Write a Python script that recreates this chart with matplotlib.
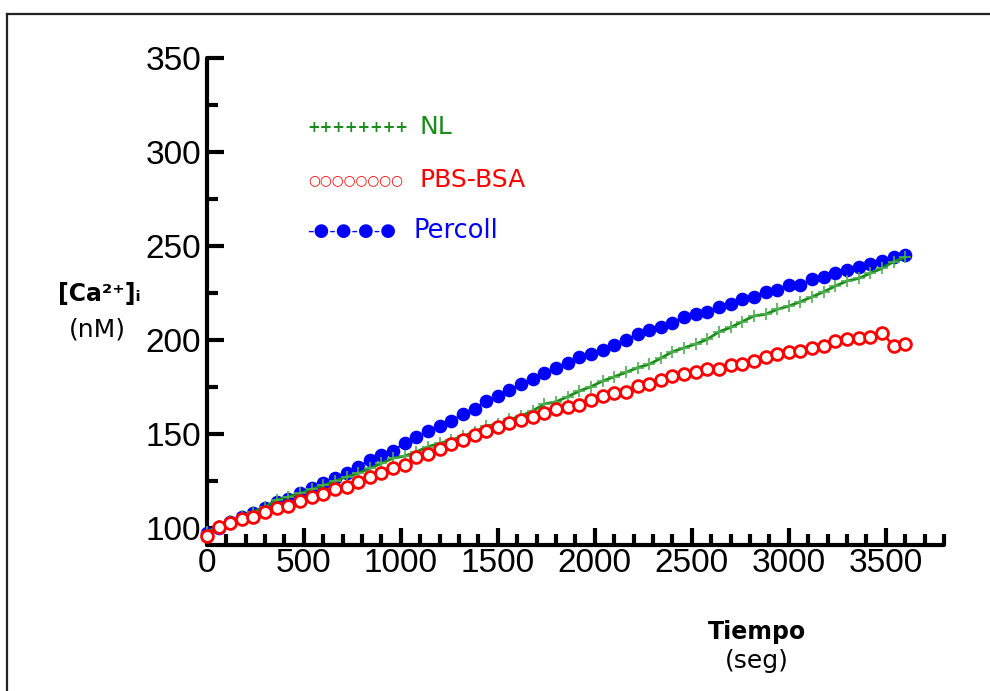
import matplotlib
matplotlib.use("Agg")
import matplotlib.pyplot as plt
from matplotlib.lines import Line2D
from matplotlib.ticker import MultipleLocator

# tiempo (seg), one reading every 60 s
tiempo = list(range(0, 3601, 60))

nl = [98.0, 101.0, 103.5, 106.4, 108.7, 111.3, 114.9, 116.7, 118.4, 120.6,
      122.7, 125.0, 127.3, 129.1, 131.7, 134.4, 137.2, 138.3, 140.6, 143.3,
      145.1, 146.8, 148.9, 151.2, 154.3, 155.3, 157.8, 159.6, 162.4, 166.0,
      167.2, 169.9, 172.9, 175.2, 178.2, 180.5, 182.8, 185.3, 187.1, 190.3,
      193.8, 195.9, 197.9, 200.4, 204.4, 206.7, 209.8, 212.8, 213.7, 216.3,
      218.1, 220.4, 223.0, 225.7, 228.7, 231.4, 232.8, 235.5, 238.1, 241.7,
      244.0]

pbs_bsa = [95.7, 100.7, 102.8, 104.8, 106.0, 108.5, 110.5, 111.7, 114.5, 116.7,
           118.1, 120.6, 121.6, 124.6, 127.3, 129.1, 131.7, 133.5, 137.6, 139.4,
           141.8, 144.7, 146.8, 149.5, 151.6, 153.6, 156.0, 157.4, 159.2, 161.0,
           163.1, 164.5, 165.4, 168.1, 170.2, 172.0, 172.3, 175.5, 176.4, 178.7,
           180.9, 181.9, 183.2, 184.4, 184.6, 186.7, 187.2, 189.0, 191.1, 192.4,
           193.8, 194.3, 195.9, 197.0, 199.5, 200.5, 201.2, 201.8, 203.9, 197.0,
           197.9]

percoll = [97.5, 100.2, 103.0, 106.0, 107.8, 110.5, 113.7, 115.6, 118.4, 121.1,
           124.1, 126.4, 129.4, 132.6, 136.2, 138.8, 141.1, 145.4, 148.2, 151.8,
           154.3, 157.1, 160.6, 163.1, 167.7, 170.4, 173.4, 176.6, 179.4, 182.3,
           184.9, 187.6, 190.8, 192.6, 194.7, 197.3, 200.0, 203.0, 205.3, 207.1,
           208.9, 212.1, 213.8, 214.7, 217.7, 219.0, 221.8, 222.7, 225.4, 226.6,
           229.1, 229.3, 232.3, 233.4, 235.5, 237.2, 239.0, 240.4, 242.0, 244.0,
           245.2]

fig = plt.figure(figsize=(9.9, 6.91), dpi=100)
ax = fig.add_axes([0.209, 0.2113, 0.7445, 0.7047])

ax.plot(tiempo, percoll, color="#0000ff", lw=1.5, marker="o", ms=8.8,
        mfc="#0000ff", mec="#0000ff", zorder=3, clip_on=False)
ax.plot(tiempo, nl, color="#1a8c1a", lw=2.0, zorder=4, clip_on=False)
ax.plot(tiempo, nl, ls="none", marker="+", ms=8, mew=1.2, color="#4fae4f",
        zorder=4, clip_on=False)
ax.plot(tiempo, pbs_bsa, color="#ff0000", lw=1.8, marker="o", ms=8.5,
        mfc="white", mec="#ff0000", mew=2.0, zorder=5, clip_on=False)

ax.set_xlim(0, 3800)
ax.set_ylim(91, 350)
ax.set_xticks(range(0, 3501, 500))
ax.set_yticks(range(100, 351, 50))
ax.xaxis.set_minor_locator(MultipleLocator(100))
ax.yaxis.set_minor_locator(MultipleLocator(25))

for s in ["top", "right"]:
    ax.spines[s].set_visible(False)
for s in ["left", "bottom"]:
    ax.spines[s].set_linewidth(3)
    ax.spines[s].set_capstyle("round")

ax.tick_params(which="major", direction="in", length=12, width=3,
               labelsize=24)
ax.tick_params(which="minor", direction="in", length=8, width=3)
for lab in ax.get_xticklabels() + ax.get_yticklabels():
    lab.set_fontfamily("Liberation Sans")
ax.tick_params(axis="x", pad=2)
ax.tick_params(axis="y", pad=4)

# legend drawn as coloured text, as in the original
lab_font = "DejaVu Sans"
fig.text(307 / 990, 1 - 127 / 691, "++++++++", color="#1a8c1a", fontsize=10.8,
         fontweight="bold", va="center", family="DejaVu Sans")
fig.text(420 / 990, 1 - 127 / 691, "NL", color="#1a8c1a", fontsize=18,
         va="center", family=lab_font)
fig.text(308 / 990, 1 - 180 / 691, "○○○○○○○○", color="#ff0000", fontsize=9.8,
         va="center", family="DejaVu Sans")
fig.text(420 / 990, 1 - 180 / 691, "PBS-BSA", color="#ff0000", fontsize=18,
         va="center", family=lab_font)
fig.text(307 / 990, 1 - 231 / 691, "-●-●-●-●", color="#0000ff", fontsize=13,
         va="center", family="DejaVu Sans")
fig.text(414 / 990, 1 - 231 / 691, "Percoll", color="#0000ff", fontsize=18.5,
         va="center", family=lab_font)

# axis titles
fig.text(99 / 990, 1 - 294 / 691, "[Ca²⁺]ᵢ", fontsize=17, fontweight="bold",
         ha="center", va="center", family="DejaVu Sans")
fig.text(97 / 990, 1 - 330 / 691, "(nM)", fontsize=18, ha="center",
         va="center", family=lab_font)
fig.text(757 / 990, 1 - 632 / 691, "Tiempo", fontsize=17, fontweight="bold",
         ha="center", va="center", family="DejaVu Sans")
fig.text(757 / 990, 1 - 661 / 691, "(seg)", fontsize=18, ha="center",
         va="center", family=lab_font)

# frame lines at the top and left edge of the picture
fig.add_artist(Line2D([7 / 990, 1.0], [1 - 14 / 691, 1 - 14 / 691],
                      color="#222222", lw=1.6, transform=fig.transFigure))
fig.add_artist(Line2D([7 / 990, 7 / 990], [0.0, 1 - 14 / 691],
                      color="#222222", lw=1.6, transform=fig.transFigure))

fig.savefig("out.png", dpi=100)
